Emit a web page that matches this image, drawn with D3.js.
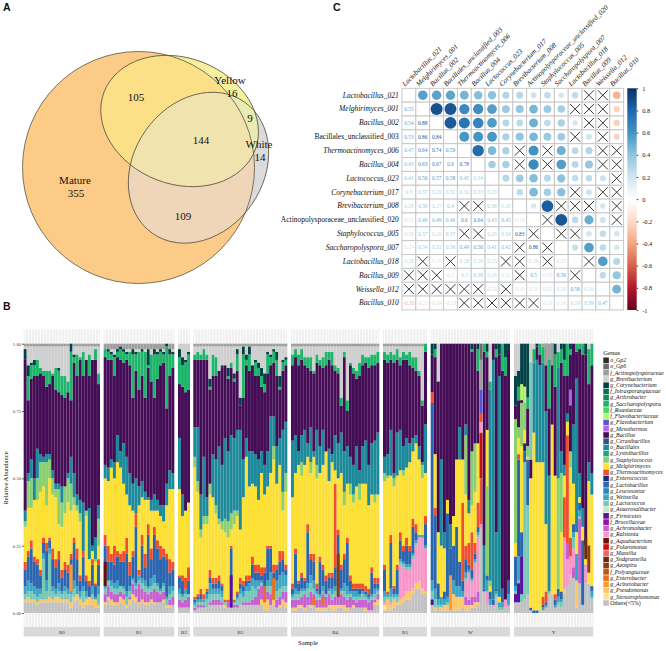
<!DOCTYPE html>
<html><head><meta charset="utf-8">
<style>html,body{margin:0;padding:0;background:#fff}svg{display:block}text{font-family:"Liberation Serif",serif;fill:#111}</style>
<script src="https://cdn.jsdelivr.net/npm/d3@7/dist/d3.min.js"></script>
</head><body><svg id="c" width="666" height="651"></svg>
<script>
/* ---------- Panel A: Venn ---------- */
const vennNames=["Mature","Yellow","White"];
const vennLabels=[["Mature",75,184],["355",76,197],["105",136,101],["Yellow",230,84],["16",232,97],["9",250,122],["144",201,144],["White",259,148],["14",260,161],["109",183,220]];
const vennRegion={white:"#dbdbdb",yellow:"#f4f09e",yellowWhite:"#e9ecb2",mature:"#fccb87",matureYellow:"#fbe088",matureWhite:"#efd6b8",all:"#f1e3ae"};
/* ---------- Panel C: correlation ---------- */
const taxa=[["Lactobacillus_021",1],["Melghirimyces_001",1],["Bacillus_002",1],["Bacillales_unclassified_003",0],["Thermoactinomyces_006",1],["Bacillus_004",1],["Lactococcus_023",1],["Corynebacterium_017",1],["Brevibacterium_008",1],["Actinopolysporaceae_unclassified_020",0],["Staphylococcus_005",1],["Saccharopolyspora_007",1],["Lactobacillus_018",1],["Bacillus_009",1],["Weissella_012",1],["Bacillus_010",1]];
const corrRows=[[],[.55],[.54,.88],[.53,.86,.84],[.47,.64,.74,.59],[.43,.63,.67,.6,.78],[.41,.56,.57,.58,.45,.34],[.3,.37,.29,.32,.32,.33,.29],
[.28,.39,.27,.4,null,null,.36,.26],[.21,.46,.49,.46,.6,.64,.43,.45,.18],[.26,.37,.26,.37,null,null,.29,.34,.83,null],[.19,.34,.32,.36,.49,.56,.41,.42,null,.86,null],
[.26,null,.18,null,.28,.28,.25,null,null,.26,null,.23],[null,null,null,.2,.3,.38,.26,.21,null,.5,.19,.56,null],[null,null,null,null,null,null,.22,null,.19,.21,.25,.26,.56,.26],
[-.35,-.23,-.24,-.23,null,null,null,null,null,null,.19,.18,.29,.39,.47]];
const corrStops=["#67001F","#B2182B","#D6604D","#F4A582","#FDDBC7","#FFFFFF","#D1E5F0","#92C5DE","#4393C3","#2166AC","#053061"];
const corrTicks=[1,.8,.6,.4,.2,0,-.2,-.4,-.6,-.8,-1];
/* ---------- Panel B: stacked bars ---------- */
const facets=["B0","B1","B2","B3","B4","B5","W","Y"];
const facetSpan=[[23.7,100],[103.7,174.3],[178,190],[193.3,287.3],[291,379.3],[383,427],[430.7,510],[514,593.3]];
const genus=["o_Gp2","o_Gp6","f_Actinopolysporaceae","g_Brevibacterium","g_Corynebacterium","f_Intrasporangiaceae","g_Arthrobacter","g_Saccharopolyspora","f_Ruaniaceae","f_Flavobacteriaceae","g_Flavobacterium","g_Mesothermus","g_Bacillus","g_Cerasibacillus","o_Bacillales","g_Lysinibacillus","g_Staphylococcus","g_Melghirimyces","g_Thermoactinomyces","g_Enterococcus","g_Lactobacillus","g_Leuconostoc","g_Weissella","g_Lactococcus","g_Anaerosalibacter","p_Firmicutes","f_Brucellaceae","g_Achromobacter","g_Ralstonia","g_Aquabacterium","g_Polaromonas","g_Massilia","g_Sndgrassella","g_Azospira","f_Polyangiaceae","g_Enterobacter","g_Acinetobacter","g_Pseudomonas","g_Stenotrophomonas","Others(<5%)"];
const genusColor=["#2d2d2d","#6b6b6b","#9e9e9e","#cfcfcf","#053f46","#0f6b57","#0e8a5a","#1db56a","#47d65f","#b7f56e","#5a52d8","#b464e6","#440a57","#37517f","#1f8a9a","#17a58c","#8bd070","#fde030","#f0502d","#1a2d80","#2b66b0","#2a86c0","#3aa6c4","#78c8b8","#c5e8c0","#5a0f9e","#98109e","#c65fcf","#f797c9","#6b0f0f","#c81010","#f86060","#6b2a10","#8c3a12","#c05510","#e8701a","#fa9a30","#fdc868","#fde09a","#c2c2c2"];
// Cumulative tops (%), one sub-list per facet: B0,B1,B2,B3,B4,B5,W,Y
const others=[[4,4,4,4,3,4,4,4,4,4,4,4,4,4,4,2,4,5,3,2,3,3,3,2,2],[3,5,3,3,3,4,3,2,3,5,4,3,4,3,3,4,3,4,4,4,2,2,3],[2,2,2,2],[1,2,2,2,2,3,3,3,3,3,2,2,3,2,2,3,3,3,3,3,3,3,3,1,1,3,3,2,2,3,2],[1,1,2,2,1,3,2,3,1,1,1,1,2,1,1,2,2,1,1,2,2,2,2,2,1,1,1,3,3],[1,1,1,2,3,3,4,5,5,7,9,9,7,7],[3,1,2,1,1,1,1,1,1,1,2,1,1,2,2,3,31,8,3,3,2,6,1,1,2,2],[4,4,4,5,7,1,0,0,1,1,2,7,7,2,3,2,7,10,14,13,2,11,3,11,11,5]];
const pseudomonas=[[5,6,5,5,4,5,5,5,6,5,6,6,5,5,5,4,6,7,5,4,5,6,5,5,3],[4,6,5,4,4,6,5,3,5,7,6,4,5,4,4,5,4,4,4,5,3,3,3],[2,2,2,2],[1,2,2,2,2,3,3,3,3,3,3,2,3,2,2,3,3,3,3,3,3,3,5,4,5,3,5,2,3,5,4],[2,2,3,3,2,3,3,3,2,2,2,2,3,3,3,3,3,3,2,2,3,2,2,2,2,1,1,4,5],[3,5,3,5,4,5,6,8,8,9,11,12,9,8],[3,2,0,2,3,3,7,7,6,6,6,3,3,3,4,4,0,0,0,0,0,0,0,0,0,0],[0,0,0,0,0,0,0,0,0,0,0,0,0,0,0,0,9,0,0,0,12,0,0,0,0,0]];
const achromobacter=[[0,0,0,0,0,0,0,0,0,0,0,0,0,0,0,0,0,0,0,0,0,0,0,0,0],[7,10,8,7,7,8,7,3,6,11,9,11,9,8,7,8,9,8,7,8,3,5,6],[5,4,5,6],[2,3,3,3,2,4,5,5,5,4,3,4,4,3,3,3,4,4,4,5,6,9,10,6,8,7,9,5,6,8,8],[5,5,5,6,7,6,8,7,5,5,7,6,7,5,6,7,7,6,5,6,5,4,5,5,5,4,5,5,7],[0,0,0,0,0,0,0,0,0,0,0,0,0,0],[0,0,0,0,0,0,0,0,0,0,0,6,5,6,6,8,0,0,0,0,0,0,0,0,0,0],[0,0,0,0,0,0,0,0,0,0,0,0,0,0,0,0,0,0,0,17,0,35,0,0,0,0]];
const ralstonia=[[0,0,0,0,0,0,0,0,0,0,0,0,0,0,0,0,0,0,0,0,0,0,0,0,0],[0,0,0,0,0,0,0,0,0,0,0,0,0,0,0,0,0,0,0,0,0,0,0],[0,0,0,0],[0,0,0,0,0,0,0,0,0,0,0,0,0,0,0,0,0,0,0,0,0,0,0,0,0,0,0,0,0,0,0],[0,0,0,0,0,0,0,0,0,0,0,0,0,0,0,0,0,0,0,0,0,0,0,0,0,0,0,0,0],[4,4,4,4,4,18,17,16,16,20,25,28,28,24],[0,0,0,0,0,0,0,0,0,0,0,12,15,12,18,28,33,0,8,0,3,0,0,0,5,3],[0,0,0,0,0,0,0,0,0,0,0,0,0,0,0,0,28,20,21,24,0,0,0,18,0,0]];
const lactococcus=[[7,8,8,7,6,7,20,8,22,8,7,8,7,8,7,7,9,7,6,8,6,5,7,5,7],[9,12,10,9,9,10,9,6,8,12,10,12,11,10,9,10,11,10,8,10,5,7,8],[7,6,7,7],[3,4,4,4,5,7,7,7,7,6,4,4,8,4,5,7,6,8,8,10,9,10,11,8,10,10,10,8,9,10,10],[6,7,7,8,8,9,11,9,7,6,8,7,8,7,8,9,8,8,7,7,6,6,6,7,6,5,6,7,8],[6,6,6,6,6,19,18,17,17,21,26,28,28,24],[8,5,3,3,3,4,7,7,6,6,6,13,14,12,19,29,0,0,8,3,0,7,2,2,0,3],[8,12,21,56,40,0,0,0,0,1,2,8,0,2,4,4,0,0,0,28,10,36,0,0,0,6]];
const weissella=[[10,12,11,10,9,9,22,12,24,10,9,11,8,10,9,8,12,10,8,10,8,6,10,6,10],[11,10,12,11,12,10,10,8,10,13,11,14,13,12,10,13,14,11,9,11,6,10,10],[9,7,9,6],[4,5,5,5,7,11,9,9,9,8,4,4,10,4,6,9,8,10,11,13,12,12,12,10,12,15,12,12,14,15,14],[7,9,8,9,9,11,14,12,8,7,10,7,9,9,10,10,9,11,10,8,8,8,7,8,7,6,7,9,9],[8,7,9,7,7,20,19,18,18,22,27,29,29,25],[12,9,5,6,5,6,10,12,10,10,8,15,16,13,20,30,0,0,12,5,0,8,4,4,0,7],[10,21,21,56,40,0,0,0,0,2,3,8,0,3,6,5,0,0,0,30,22,38,0,0,0,8]];
const lactobacillus=[[16,21,24,19,18,14,26,23,27,20,17,20,13,16,15,20,26,20,12,21,12,10,18,10,18],[25,19,19,18,21,19,19,22,14,21,32,14,25,17,29,20,29,24,20,21,20,15,16],[13,12,9,12],[5,6,7,5,8,13,11,11,12,10,4,4,24,4,7,11,10,12,12,18,15,15,14,15,24,24,15,16,19,20,16],[9,22,11,13,12,30,20,19,9,19,16,12,13,13,17,29,16,20,26,12,9,9,9,9,8,7,15,11,11],[16,7,26,9,16,27,23,25,23,32,30,24,24,33],[78,36,11,0,8,37,24,25,32,19,12,20,18,16,22,32,0,9,14,8,5,9,0,9,0,12],[21,57,30,60,57,2,1,1,0,3,4,0,0,5,9,8,0,0,0,33,0,41,27,0,0,10]];
const thermoactinomyces=[[19,23,27,21,20,16,28,26,28,24,20,23,16,19,18,22,28,24,14,23,14,12,20,11,20],[29,25,22,25,23,22,23,28,19,23,37,16,29,22,33,24,32,27,25,24,22,20,19],[14,14,13,17],[6,7,9,7,9,16,13,13,14,11,5,5,25,5,8,13,12,14,14,21,18,18,17,17,25,25,18,18,23,23,18],[11,24,12,15,13,33,22,22,11,21,18,14,15,15,48,31,18,22,28,14,11,11,11,11,10,9,17,13,13],[18,8,29,10,18,30,25,28,25,35,33,27,27,36],[82,39,0,0,0,0,0,0,0,0,41,25,26,30,26,41,50,0,0,0,0,0,0,0,0,0],[0,59,0,0,0,0,0,0,0,6,8,0,0,7,0,0,43,66,28,0,0,0,0,0,0,0]];
const melghirimyces=[[32,39,39,42,42,45,47,40,50,44,43,33,32,37,41,38,40,38,34,23,36,20,23,19,25],[50,49,54,50,56,54,48,44,40,38,37,40,43,42,42,38,38,38,36,34,40,46,46],[46,36,38,41],[54,45,28,33,33,44,43,37,33,31,30,28,31,33,36,31,43,58,47,48,47,42,52,44,47,52,57,48,55,38,45],[43,52,55,51,55,58,52,58,50,52,55,60,49,56,53,50,52,40,48,44,41,47,42,48,48,40,44,41,44],[49,50,51,47,51,53,51,54,56,60,63,57,50,52],[0,59,30,25,24,42,24,36,57,57,57,44,37,40,45,63,0,0,68,10,0,0,6,0,0,0],[26,65,62,68,58,50,67,56,56,56,33,0,70,51,0,30,51,71,54,48,30,43,32,25,49,44]];
const staphylococcus=[[34,49,50,41,50,56,56,56,57,50,46,46,41,47,50,48,43,40,37,23,38,20,23,20,35],[0,0,0,0,0,0,0,0,0,0,0,0,0,0,0,0,0,0,0,0,0,0,0],[0,0,0,0],[58,49,31,36,36,48,43,40,35,34,35,34,37,38,38,31,43,58,47,48,47,42,52,44,47,52,62,48,55,45,52],[43,52,55,56,55,58,56,58,55,52,55,60,49,56,53,50,52,45,48,48,44,47,48,48,48,40,44,44,44],[52,51,51,50,51,53,53,54,56,60,63,57,55,52],[0,0,0,0,0,0,0,0,0,0,0,66,0,60,63,0,0,0,0,12,0,0,0,0,0,0],[72,69,78,78,62,0,0,0,0,0,0,0,0,0,50,52,0,0,60,0,0,0,0,0,0,0]];
const bacillales=[[38,52,57,50,61,59,58,59,59,53,48,48,47,44,52,58,52,44,42,41,25,39,25,28,40],[55,54,57,56,66,60,63,58,52,48,50,47,49,45,43,42,44,42,40,40,48,53,52],[65,44,38,40],[69,69,44,58,43,41,59,57,62,55,65,60,66,65,68,68,57,65,60,60,59,57,60,55,60,73,73,62,65,68,71],[64,66,60,66,68,63,69,60,68,62,68,58,61,59,66,63,67,60,62,58,55,62,53,62,64,55,63,64,67],[58,59,68,52,67,68,62,65,63,65,66,62,56,70],[0,59,0,57,30,0,33,0,0,69,0,70,42,0,0,0,0,25,0,83,94,30,88,0,0,0],[0,0,0,0,0,0,93,94,92,93,75,51,0,0,91,60,55,74,0,70,87,52,39,0,56,52]];
const bacillus=[[94,79,87,88,88,89,88,84,85,88,83,82,81,80,82,79,93,88,94,88,94,88,94,94,85],[95,94,94,88,95,94,93,94,92,80,90,83,88,80,91,86,80,87,92,93,76,88,91],[85,84,82,83],[94,94,94,94,94,83,88,88,90,91,92,87,91,86,90,77,80,92,90,92,88,88,84,82,89,92,93,88,83,90,92],[92,95,92,94,92,91,90,89,93,92,91,92,94,92,90,89,77,95,75,92,89,87,88,92,93,91,92,92,93],[94,93,94,93,94,92,94,94,92,91,90,88,77,97],[96,95,86,100,100,100,100,100,100,100,100,100,100,97,100,90,0,97,95,83,100,95,96,90,88,98],[77,79,82,80,76,57,0,99,96,0,92,76,92,84,0,93,88,88,96,100,97,98,96,96,85,92]];
const saccharopolyspora=[[94,88,92,92,94,91,90,90,90,89,91,90,88,88,86,97,95,96,95,97,94,96,94,98,89],[98,97,96,95,97,98,97,96,97,96,96,97,97,97,92,96,96,96,97,96,99,96,96],[95,92,93,96],[96,97,96,98,96,84,96,95,90,91,92,88,93,87,96,77,96,94,96,92,93,91,88,85,96,95,97,94,84,93,94],[96,98,96,98,95,95,95,90,96,94,95,97,97,97,92,91,80,97,79,93,91,90,93,96,95,95,96,96,97],[97,96,97,96,98,95,97,96,97,95,95,90,79,100],[0,98,0,0,0,0,0,0,0,0,0,0,0,98,0,98,0,100,97,86,0,98,0,100,95,0],[0,84,0,84,80,0,98,0,100,99,100,94,0,96,97,98,94,100,98,0,100,100,100,0,98,100]];
const corynebacterium=[[98,92,93,94,94,91,90,90,90,89,91,91,88,88,86,100,96,96,95,97,94,96,94,98,89],[98,98,97,96,98,99,98,97,97,98,97,97,98,97,98,96,98,97,98,97,100,98,97],[98,95,94,97],[96,97,96,98,96,87,96,95,90,92,92,91,93,89,98,80,99,96,99,92,94,93,91,89,97,96,98,97,88,94,95],[0,0,0,0,0,0,0,0,0,0,0,0,0,0,0,0,0,0,0,0,0,0,0,0,0,0,0,0,0],[0,0,0,0,0,0,0,0,0,0,0,0,0,0],[100,100,0,0,0,0,0,0,0,0,0,0,0,100,0,100,0,0,100,0,0,100,100,0,100,100],[88,90,100,100,100,0,0,100,0,0,0,0,100,100,0,100,100,0,100,0,0,0,0,100,0,0]];
const brevibacteriumTop=[99,98,100,99,99,99,100,100];
// Segments that break the usual stack order: facet, sample, genus index, from %, to %
const overlays=[["B1",0,29,10,19],["B3",12,25,2,14],["B3",23,35,4,10],["B3",26,35,5,13],["B4",15,33,6,22],["B4",7,35,3,6],["B4",10,35,3,6],["B0",15,36,8,18],["B5",0,38,1,3],
["W",0,25,3,5],["W",6,36,1,14],["W",16,30,50,67],["W",16,28,67,71],["W",16,18,71,74],["W",16,10,74,83],["W",16,2,83,94],["W",16,1,94,100],["W",18,16,14,47],
["Y",0,25,4,7],["Y",1,25,4,11],["Y",2,25,7,21],["Y",3,19,60,63],["Y",2,9,79,85],["Y",3,9,78,84],["Y",5,23,57,93],["Y",18,11,77,83],["Y",23,32,20,28],["Y",24,33,15,25],["Y",17,27,20,26],["Y",9,2,99,100],["Y",10,2,92,100],["Y",11,2,94,100],["Y",12,2,92,100]];
const seriesStack=[["Others(<5%)",others],["g_Pseudomonas",pseudomonas],["g_Achromobacter",achromobacter],["g_Ralstonia",ralstonia],["g_Lactococcus",lactococcus],["g_Weissella",weissella],["g_Lactobacillus",lactobacillus],["g_Thermoactinomyces",thermoactinomyces],["g_Melghirimyces",melghirimyces],["g_Staphylococcus",staphylococcus],["o_Bacillales",bacillales],["g_Bacillus",bacillus],["g_Saccharopolyspora",saccharopolyspora],["g_Corynebacterium",corynebacterium]];

const svg=d3.select("#c");
const defs=svg.append("defs");
defs.append("filter").attr("id","soft").attr("x","-2%").attr("y","-2%").attr("width","104%").attr("height","104%").append("feGaussianBlur").attr("stdDeviation",.4);
/* panel letters */
svg.selectAll("text.letter").data([["A",3,11],["C",333,11],["B",3,310]]).join("text").attr("x",d=>d[1]).attr("y",d=>d[2]).text(d=>d[0]).style("font-family","Liberation Sans").style("font-weight","bold").style("font-size","10.5px");

/* ----- Venn: each region painted flat, clipped by the ellipses ----- */
const vennGeom=[[138.5,167.5,116,116,0],[179.6,121,80.9,63.1,21],[198.5,167.7,80.2,64.7,-55]];
const ell=(sel,i)=>{const g=vennGeom[i];return sel.attr("rx",g[2]).attr("ry",g[3]).attr("transform",`translate(${g[0]},${g[1]}) rotate(${g[4]})`);};
vennNames.forEach((nm,i)=>ell(defs.append("clipPath").attr("id","clip"+nm).append("ellipse"),i));
const gV=svg.append("g");
const paint=(i,fill,clips)=>{let host=gV;clips.forEach(c=>{host=host.append("g").attr("clip-path",`url(#clip${c})`);});ell(host.append("ellipse"),i).attr("fill",fill);};
paint(2,vennRegion.white,[]);
paint(1,vennRegion.yellow,[]);
paint(2,vennRegion.yellowWhite,["Yellow"]);
paint(0,vennRegion.mature,[]);
paint(1,vennRegion.matureYellow,["Mature"]);
paint(2,vennRegion.matureWhite,["Mature"]);
paint(2,vennRegion.all,["Mature","Yellow"]);
vennNames.forEach((nm,i)=>ell(gV.append("ellipse"),i).attr("fill","none").attr("stroke","#5d5546").attr("stroke-width",.8));
gV.selectAll("text").data(vennLabels).join("text").attr("x",d=>d[1]).attr("y",d=>d[2]).attr("text-anchor","middle").style("font-size","11px").text(d=>d[0]);

/* ----- Corrplot ----- */
const n=taxa.length, cx0=402,cy0=88.3,cw=13.85;
const xC=d3.scaleBand().domain(d3.range(n)).range([cx0,cx0+cw*n]);
const colC=d3.scaleLinear().domain(d3.range(11).map(i=>-1+i*.2)).range(corrStops);
const gC=svg.append("g");
const cells=[];for(let r=0;r<n;r++)for(let c=0;c<n;c++){const v=r===c?undefined:(r>c?corrRows[r][c]:corrRows[c][r]);cells.push({r,c,v});}
gC.selectAll("rect").data(cells).join("rect").attr("x",d=>xC(d.c)).attr("y",d=>xC(d.r)-cx0+cy0).attr("width",cw).attr("height",cw).attr("fill","#fff").attr("stroke","#c4c4c4").attr("stroke-width",.9);
gC.selectAll("circle").data(cells.filter(d=>d.c>d.r&&d.v!=null)).join("circle").attr("cx",d=>xC(d.c)+cw/2).attr("cy",d=>xC(d.r)-cx0+cy0+cw/2).attr("r",d=>Math.sqrt(Math.abs(d.v))*.93*cw/2).attr("fill",d=>colC(d.v));
const crosses=cells.filter(d=>d.r!==d.c&&d.v===null);
gC.selectAll("path.x").data(crosses).join("path").attr("d",d=>{const X=xC(d.c)+cw/2,Y=xC(d.r)-cx0+cy0+cw/2,s=5;return `M${X-s},${Y-s}L${X+s},${Y+s}M${X-s},${Y+s}L${X+s},${Y-s}`;}).attr("stroke","#222").attr("stroke-width",.9).attr("fill","none");
gC.selectAll("text.v").data(cells.filter(d=>d.c<d.r&&d.v!=null)).join("text").attr("x",d=>xC(d.c)+cw/2).attr("y",d=>xC(d.r)-cx0+cy0+cw/2+1.8).attr("text-anchor","middle").style("font-size","5.4px").style("fill",d=>colC(d.v)).text(d=>String(d.v));
gC.selectAll("text.r").data(taxa).join("text").attr("x",cx0-3.3).attr("y",(d,i)=>xC(i)-cx0+cy0+cw/2+2.4).attr("text-anchor","end").style("font-size","7.5px").style("font-style",d=>d[1]?"italic":"normal").text(d=>d[0]);
gC.selectAll("text.t").data(taxa).join("text").attr("transform",(d,i)=>`translate(${xC(i)+cw/2-4},${cy0-1.5}) rotate(-45)`).style("font-size","7.1px").style("font-style","italic").text(d=>d[0]);
/* colour bar */
const yBar=d3.scaleLinear().domain([-1,1]).range([310,88.3]);
const grad=defs.append("linearGradient").attr("id","cb").attr("x1",0).attr("x2",0).attr("y1",1).attr("y2",0);
corrStops.forEach((c,i)=>grad.append("stop").attr("offset",i*10+"%").attr("stop-color",c));
svg.append("rect").attr("x",627.3).attr("y",88.3).attr("width",9.4).attr("height",221.7).attr("fill","url(#cb)");
const axBar=svg.append("g").attr("transform","translate(636.7,0)").call(d3.axisRight(yBar).tickValues(corrTicks).tickSize(1.5).tickFormat(d=>d));
axBar.select(".domain").remove();axBar.selectAll("line").attr("stroke","#333");
axBar.selectAll("text").attr("dx",1).style("font-size","6.3px").style("font-family","Liberation Serif");

/* ----- Stacked bars ----- */
const yB=d3.scaleLinear().domain([0,100]).range([613,343.7]);
const keys=[...seriesStack.map(s=>s[0]),"g_Brevibacterium","f_Actinopolysporaceae"];
const colorOf=d3.scaleOrdinal().domain(genus).range(genusColor);
const gB=svg.append("g");
facets.forEach((f,fi)=>{
  const count=others[fi].length, span=facetSpan[fi];
  const xB=d3.scaleBand().domain(d3.range(count)).range(span).paddingInner(.03);
  const g=gB.append("g");
  g.append("rect").attr("x",span[0]).attr("y",329.5).attr("width",span[1]-span[0]).attr("height",297.5).attr("fill","#efefef");
  g.selectAll("line.g").data(d3.range(count)).join("line").attr("x1",i=>xB(i)+xB.bandwidth()/2).attr("x2",i=>xB(i)+xB.bandwidth()/2).attr("y1",329.5).attr("y2",627).attr("stroke","#fff").attr("stroke-width",.9);
  g.append("rect").attr("x",span[0]).attr("y",627).attr("width",span[1]-span[0]).attr("height",9.5).attr("fill","#d9d9d9");
  g.append("text").attr("x",(span[0]+span[1])/2).attr("y",633.6).attr("text-anchor","middle").style("font-size","5px").style("fill","#333").text(f);
  const rows=d3.range(count).map(i=>{let run=0;const row={i};
    seriesStack.forEach(([k,arr])=>{const t=Math.max(run,arr[fi][i]);row[k]=t-run;run=t;});
    const t=Math.max(run,brevibacteriumTop[fi]);row["g_Brevibacterium"]=t-run;row["f_Actinopolysporaceae"]=100-t;return row;});
  const stacked=d3.stack().keys(keys)(rows);
  const bars=g.append("g").attr("filter","url(#soft)");
  bars.selectAll("g.s").data(stacked).join("g").attr("fill",d=>colorOf(d.key)).selectAll("rect").data(d=>d).join("rect").attr("x",d=>xB(d.data.i)).attr("width",xB.bandwidth()).attr("y",d=>yB(d[1])).attr("height",d=>yB(d[0])-yB(d[1]));
  bars.append("g").selectAll("rect").data(overlays.filter(o=>o[0]===f)).join("rect").attr("x",o=>xB(o[1])).attr("width",xB.bandwidth()).attr("y",o=>yB(o[4])).attr("height",o=>yB(o[3])-yB(o[4])).attr("fill",o=>genusColor[o[2]]);
});
const axY=svg.append("g").attr("transform","translate(23.7,0)").call(d3.axisLeft(yB).tickValues([0,25,50,75,100]).tickSize(1.5).tickPadding(1).tickFormat(d=>(d/100).toFixed(2)));
axY.select(".domain").remove();axY.selectAll("line").attr("stroke","#333");axY.selectAll("text").style("font-size","4.8px").style("font-family","Liberation Serif").style("fill","#444");
svg.append("text").attr("transform","translate(8,478) rotate(-90)").attr("text-anchor","middle").style("font-size","6.6px").text("Relative Abundance");
svg.append("text").attr("x",308).attr("y",645).attr("text-anchor","middle").style("font-size","6.6px").text("Sample");
/* legend */
svg.append("text").attr("x",603.3).attr("y",354.5).style("font-size","6.6px").text("Genus");
const yLeg=d3.scaleLinear().domain([0,39]).range([360.3,603]);
const gL=svg.append("g");
gL.selectAll("rect").data(genus).join("rect").attr("x",603.3).attr("width",5.6).attr("y",(d,i)=>yLeg(i)-2.8).attr("height",5.6).attr("fill",(d,i)=>genusColor[i]);
gL.selectAll("text").data(genus).join("text").attr("x",610.3).attr("y",(d,i)=>yLeg(i)+1.8).style("font-size","5.8px").style("font-style",d=>d.startsWith("Others")?"normal":"italic").text(d=>d);
/* length check */
seriesStack.forEach(([k,a])=>a.forEach((l,fi)=>{if(l.length!==others[fi].length)throw new Error(k+" facet "+facets[fi]+" has "+l.length+" vs "+others[fi].length);}));
</script></body></html>
